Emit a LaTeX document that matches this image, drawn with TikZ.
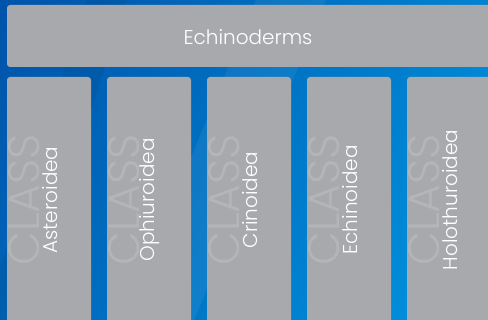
\documentclass[tikz,border=0pt]{standalone}
\usepackage{fontspec}
\setmainfont{Poppins}[UprightFont=* Light]
\definecolor{bgdark}{HTML}{0050A8}
\definecolor{bglight}{HTML}{0098E2}
\definecolor{boxgray}{HTML}{A8A9AD}
\begin{document}
\begin{tikzpicture}[x=1pt,y=-1pt,
  panel/.style={fill=boxgray, rounded corners=3pt},
  lbl/.style={text=white, font=\fontsize{20}{20}\selectfont, rotate=90, inner sep=0pt},
  wm/.style={text=white, opacity=0.14, font=\fontsize{44}{44}\selectfont, rotate=90, inner sep=0pt}]
\useasboundingbox (0,0) rectangle (488,320);
\clip (0,0) rectangle (488,320);
\shade[left color=bgdark, right color=bglight, shading angle=60] (-100,-100) rectangle (588,420);
\fill[white, opacity=0.06] (120,330) -- (260,-10) -- (330,-10) -- (190,330) -- cycle;
\fill[black, opacity=0.05] (-20,330) -- (90,-10) -- (130,-10) -- (20,330) -- cycle;
% top panel
\draw[panel, draw=none] (7,5) rectangle (500,67);
\node[text=white, font=\fontsize{20}{20}\selectfont] (top) at (248,37) {Echinoderms};
% columns
\foreach \i/\name/\txt in {0/ast/Asteroidea,1/oph/Ophiuroidea,2/cri/Crinoidea,3/ech/Echinoidea,4/hol/Holothuroidea}{
  \draw[panel, draw=none] (7+100*\i,77) rectangle (91+100*\i,340);
  \node[wm] (\name-wm) at (24+100*\i,200) {CLASS};
  \node[lbl] (\name) at (50+100*\i,200) {\txt};
}
\end{tikzpicture}
\end{document}
